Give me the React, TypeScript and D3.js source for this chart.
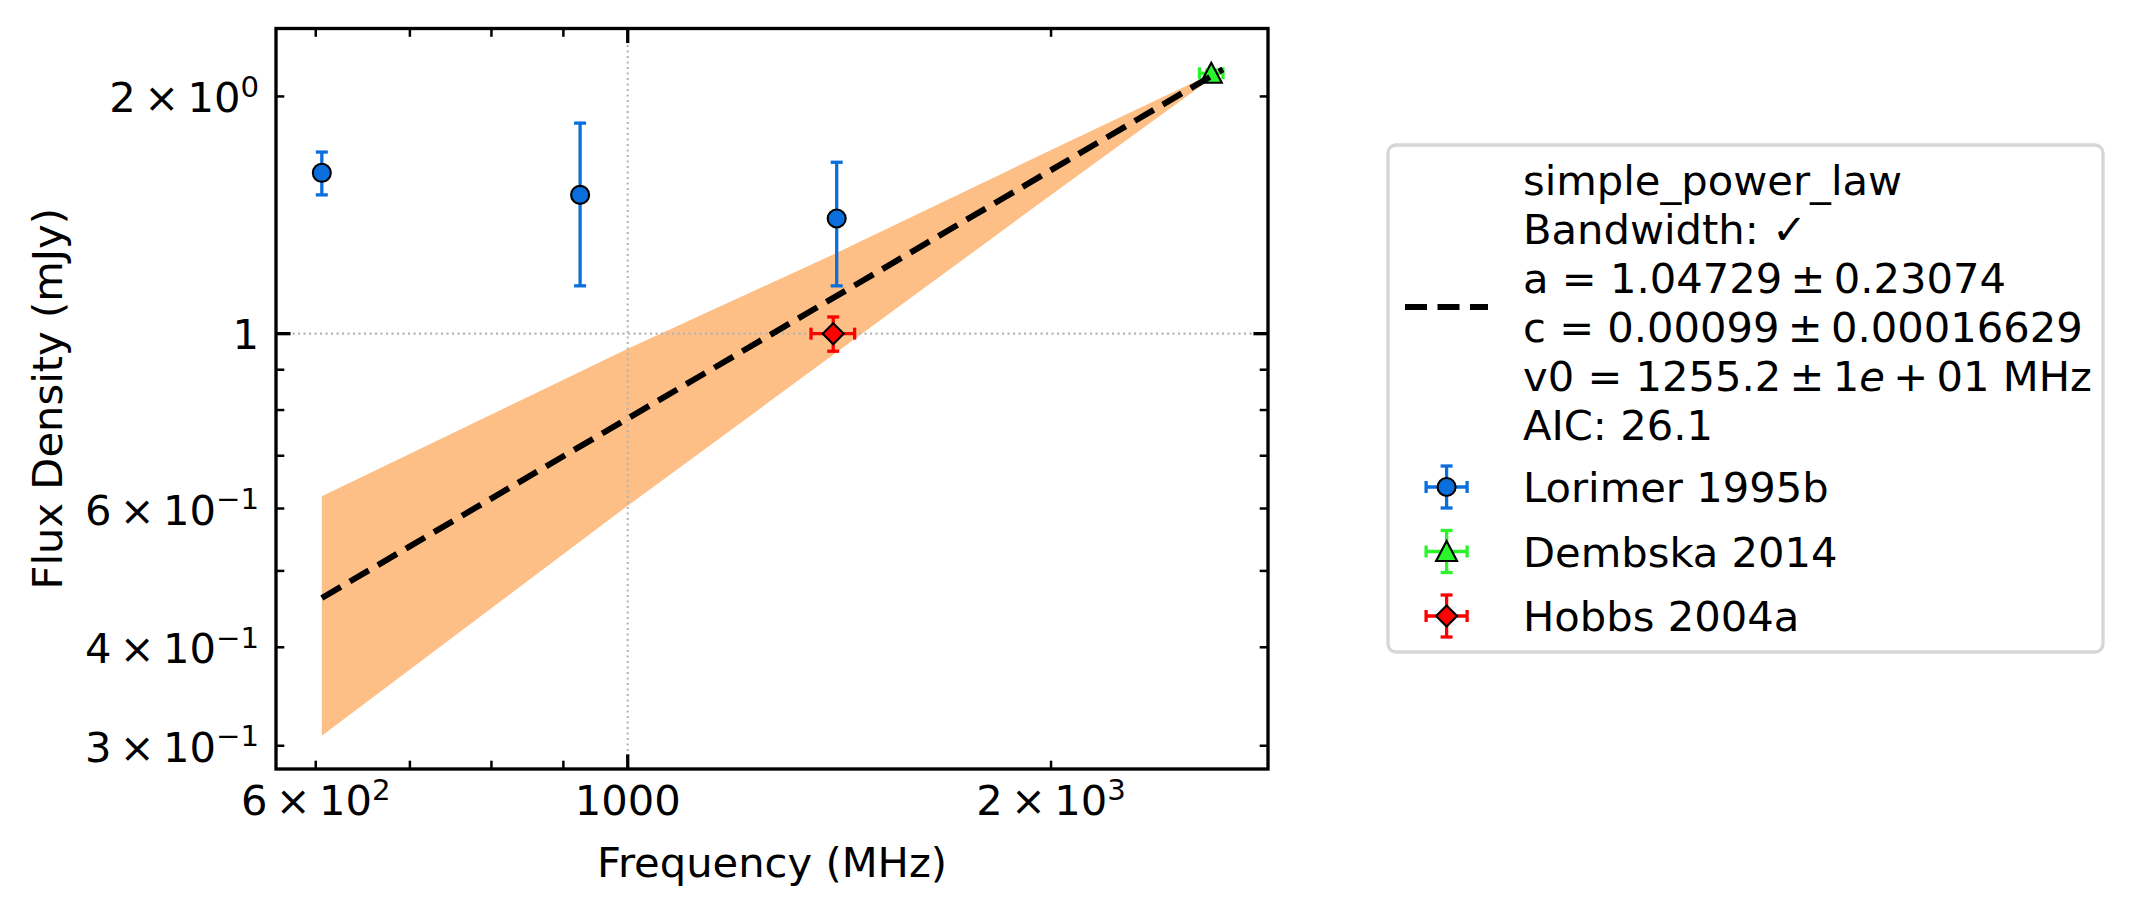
import { useEffect, useRef } from 'react';
import * as d3 from 'd3';

const width = 2133;
const height = 914;
const FONT = '"DejaVu Sans", sans-serif';
const FS = 41.67;
const SUP_FS = 29.2;

// measurements
const lorimerFreq = [606, 925, 1408];
const lorimerFlux = [1.6, 1.5, 1.4];
const lorimerFluxErr = [0.1, 0.35, 0.25];

const dembskaFreq = [2600];
const dembskaFreqErr = [50];
const dembskaFlux = [2.14];
const dembskaFluxErr = [0.02];

const hobbsFreq = [1400];
const hobbsFreqErr = [50];
const hobbsFlux = [1.0];
const hobbsFluxErr = [0.05];

// fitted power law and its uncertainty envelope
const fitFreq = [606, 2650];
const fitFlux = [0.462, 2.165];

const bandFreq = [606, 1000, 1400, 2000, 2650];
const bandUpper = [0.622, 0.957, 1.26, 1.71, 2.17];
const bandLower = [0.309, 0.605, 0.94, 1.5, 2.16];

// axes
const xMajorTicks = [1000];
const xMinorTicks = [600, 700, 800, 900, 2000];
const xTickLabels = [
  { value: 600, base: '6\u2009×\u200910', exp: '2' },
  { value: 1000, base: '1000', exp: '' },
  { value: 2000, base: '2\u2009×\u200910', exp: '3' },
];
const yMajorTicks = [1];
const yMinorTicks = [0.3, 0.4, 0.5, 0.6, 0.7, 0.8, 0.9, 2];
const yTickLabels = [
  { value: 2, base: '2\u2009×\u200910', exp: '0' },
  { value: 1, base: '1', exp: '' },
  { value: 0.6, base: '6\u2009×\u200910', exp: '−1' },
  { value: 0.4, base: '4\u2009×\u200910', exp: '−1' },
  { value: 0.3, base: '3\u2009×\u200910', exp: '−1' },
];

const fitLabelLines = [
  [{ t: 'simple_power_law' }],
  [{ t: 'Bandwidth: ✓' }],
  [{ t: 'a = 1.04729\u2009±\u20090.23074' }],
  [{ t: 'c = 0.00099\u2009±\u20090.00016629' }],
  [{ t: 'v0 = 1255.2\u2009±\u20091' }, { t: 'e', italic: true }, { t: '\u2009+\u200901 MHz' }],
  [{ t: 'AIC: 26.1' }],
];
const seriesNames = ['Lorimer 1995b', 'Dembska 2014', 'Hobbs 2004a'];
const seriesColors = ['#0a6fdc', '#2af52a', '#ff0000'];
const seriesMarkers = ['circle', 'triangle', 'diamond'];

const markerPath = (kind: string) => {
  if (kind === 'triangle') return 'M0,-10.5L-10.5,9.5L10.5,9.5Z';
  if (kind === 'diamond') return 'M0,-10.5L10.5,0L0,10.5L-10.5,0Z';
  return d3.arc()({ innerRadius: 0, outerRadius: 9, startAngle: 0, endAngle: 2 * Math.PI }) as string;
};

const App = () => {
  const ref = useRef<SVGSVGElement>(null);

  useEffect(() => {
    const svg = d3.select(ref.current);
    svg.selectAll('*').remove();

    const left = 276;
    const right = 1268;
    const top = 28.5;
    const bottom = 769;

    const x = d3.scaleLog().domain([562.2, 2853]).range([left, right]);
    const y = d3.scaleLog().domain([0.2803, 2.439]).range([bottom, top]);

    svg.append('rect').attr('width', width).attr('height', height).attr('fill', '#fff');

    // uncertainty band
    const band = d3
      .area<number>()
      .x((d) => x(d))
      .y0((d, i) => y(bandLower[i]))
      .y1((d, i) => y(bandUpper[i]));
    svg.append('path').datum(bandFreq).attr('d', band).attr('fill', '#fdbf86');

    // grid on the major ticks
    const grid = svg.append('g').attr('stroke', '#b4b4b4').attr('stroke-width', 2.1).attr('stroke-dasharray', '2.1 3.4');
    xMajorTicks.forEach((v) => {
      grid.append('line').attr('x1', x(v)).attr('x2', x(v)).attr('y1', top).attr('y2', bottom);
    });
    yMajorTicks.forEach((v) => {
      grid.append('line').attr('x1', left).attr('x2', right).attr('y1', y(v)).attr('y2', y(v));
    });

    const drawErrorbar = (g, cx, cy, x0, x1, y0, y1, color) => {
      const bars = g.append('g').attr('stroke', color).attr('stroke-width', 3.3);
      if (x0 !== x1) {
        bars.append('line').attr('x1', x0).attr('x2', x1).attr('y1', cy).attr('y2', cy);
        [x0, x1].forEach((cxp) =>
          bars.append('line').attr('x1', cxp).attr('x2', cxp).attr('y1', cy - 6).attr('y2', cy + 6)
        );
      }
      if (y0 !== y1) {
        bars.append('line').attr('x1', cx).attr('x2', cx).attr('y1', y0).attr('y2', y1);
        [y0, y1].forEach((cyp) =>
          bars.append('line').attr('x1', cx - 6).attr('x2', cx + 6).attr('y1', cyp).attr('y2', cyp)
        );
      }
    };
    const drawMarker = (g, cx, cy, kind, color) => {
      g.append('path')
        .attr('d', markerPath(kind))
        .attr('transform', `translate(${cx},${cy})`)
        .attr('fill', color)
        .attr('stroke', '#000')
        .attr('stroke-width', 2.1);
    };

    const series = [
      { f: lorimerFreq, fe: lorimerFreq.map(() => 0), s: lorimerFlux, se: lorimerFluxErr },
      { f: dembskaFreq, fe: dembskaFreqErr, s: dembskaFlux, se: dembskaFluxErr },
      { f: hobbsFreq, fe: hobbsFreqErr, s: hobbsFlux, se: hobbsFluxErr },
    ];
    const points = svg.append('g');
    series.forEach((sr, k) => {
      sr.f.forEach((f, i) => {
        const cx = x(f);
        const cy = y(sr.s[i]);
        drawErrorbar(points, cx, cy, x(f - sr.fe[i]), x(f + sr.fe[i]), y(sr.s[i] - sr.se[i]), y(sr.s[i] + sr.se[i]), seriesColors[k]);
        drawMarker(points, cx, cy, seriesMarkers[k], seriesColors[k]);
      });
    });

    // fitted model
    const fitLine = d3
      .line<number>()
      .x((d) => x(d))
      .y((d, i) => y(fitFlux[i]));
    svg
      .append('path')
      .datum(fitFreq)
      .attr('d', fitLine)
      .attr('fill', 'none')
      .attr('stroke', '#000')
      .attr('stroke-width', 6)
      .attr('stroke-dasharray', '22 10.5');

    // frame and inward ticks on every side
    const axes = svg.append('g').attr('stroke', '#000');
    const tick = (x1, y1, x2, y2, w) =>
      axes.append('line').attr('x1', x1).attr('y1', y1).attr('x2', x2).attr('y2', y2).attr('stroke-width', w);
    xMajorTicks.forEach((v) => {
      tick(x(v), bottom, x(v), bottom - 14.6, 3.33);
      tick(x(v), top, x(v), top + 14.6, 3.33);
    });
    xMinorTicks.forEach((v) => {
      tick(x(v), bottom, x(v), bottom - 8.3, 2.5);
      tick(x(v), top, x(v), top + 8.3, 2.5);
    });
    yMajorTicks.forEach((v) => {
      tick(left, y(v), left + 14.6, y(v), 3.33);
      tick(right, y(v), right - 14.6, y(v), 3.33);
    });
    yMinorTicks.forEach((v) => {
      tick(left, y(v), left + 8.3, y(v), 2.5);
      tick(right, y(v), right - 8.3, y(v), 2.5);
    });
    axes
      .append('rect')
      .attr('x', left)
      .attr('y', top)
      .attr('width', right - left)
      .attr('height', bottom - top)
      .attr('fill', 'none')
      .attr('stroke-width', 3.33);

    const sciText = (px, py, anchor, base, exp) => {
      const t = svg
        .append('text')
        .attr('x', px)
        .attr('y', py)
        .attr('text-anchor', anchor)
        .attr('font-family', FONT)
        .attr('font-size', FS)
        .attr('fill', '#000');
      t.append('tspan').text(base);
      if (exp) t.append('tspan').attr('font-size', SUP_FS).attr('dy', -15.5).text(exp);
    };
    xTickLabels.forEach((d) => sciText(x(d.value), 815, 'middle', d.base, d.exp));
    yTickLabels.forEach((d) => sciText(259, y(d.value) + (d.exp ? 16 : 15), 'end', d.base, d.exp));

    svg
      .append('text')
      .attr('x', (left + right) / 2)
      .attr('y', 877)
      .attr('text-anchor', 'middle')
      .attr('font-family', FONT)
      .attr('font-size', FS)
      .text('Frequency (MHz)');
    svg
      .append('text')
      .attr('transform', `translate(62, ${(top + bottom) / 2}) rotate(-90)`)
      .attr('text-anchor', 'middle')
      .attr('font-family', FONT)
      .attr('font-size', FS)
      .text('Flux Density (mJy)');

    // legend
    const legend = svg.append('g');
    legend
      .append('rect')
      .attr('x', 1388)
      .attr('y', 145)
      .attr('width', 715)
      .attr('height', 507)
      .attr('rx', 8)
      .attr('fill', '#fff')
      .attr('stroke', '#d6d6d6')
      .attr('stroke-width', 3.3);
    legend
      .append('line')
      .attr('x1', 1405)
      .attr('x2', 1488)
      .attr('y1', 307)
      .attr('y2', 307)
      .attr('stroke', '#000')
      .attr('stroke-width', 6)
      .attr('stroke-dasharray', '22 10.5');
    fitLabelLines.forEach((segs, i) => {
      const t = legend
        .append('text')
        .attr('x', 1523)
        .attr('y', 195 + i * 49)
        .attr('font-family', FONT)
        .attr('font-size', FS)
        .attr('fill', '#000')
        .attr('xml:space', 'preserve');
      segs.forEach((s) => {
        const sp = t.append('tspan').text(s.t);
        if (s.italic) sp.attr('font-style', 'italic');
      });
    });
    seriesNames.forEach((name, k) => {
      const cy = 487 + k * 64.5;
      const cx = 1446.6;
      drawErrorbar(legend, cx, cy, cx - 20.5, cx + 20.5, cy + 21, cy - 21, seriesColors[k]);
      drawMarker(legend, cx, cy, seriesMarkers[k], seriesColors[k]);
      legend
        .append('text')
        .attr('x', 1523)
        .attr('y', cy + 15)
        .attr('font-family', FONT)
        .attr('font-size', FS)
        .attr('fill', '#000')
        .text(name);
    });
  }, []);

  return (
    <svg
      ref={ref}
      width={width}
      height={height}
      viewBox={`0 0 ${width} ${height}`}
      style={{ position: 'absolute', left: 0, top: 0, display: 'block' }}
    />
  );
};

export default App;
